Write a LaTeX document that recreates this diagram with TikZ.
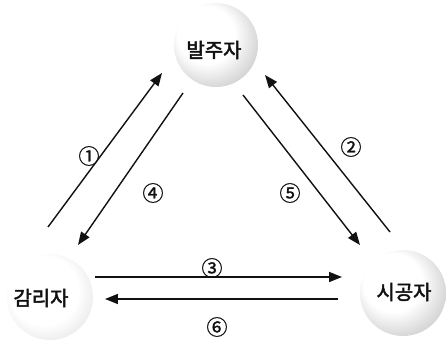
\documentclass[tikz,border=0pt]{standalone}
\usepackage{fontspec}
\usepackage{xcolor}
\usepackage{tikz}
\usetikzlibrary{arrows.meta}
\newfontfamily\krfont[FakeBold=1]{Noto Sans CJK KR}
\newfontfamily\krheavy[FakeBold=2.5]{Noto Sans CJK KR}
\definecolor{InkBlk}  {HTML}{111111}
\definecolor{SpeckGry}{HTML}{8a8a8a}

% stippled spheres behind the three parties
\pgfdeclareradialshading{speckball}{\pgfqpoint{-9bp}{9bp}}{%
  color(0bp)=(white); color(17bp)=(white); color(31bp)=(SpeckGry!40);
  color(38bp)=(SpeckGry!70); color(50bp)=(SpeckGry!70)}
\pgfdeclareradialshading{faintball}{\pgfqpoint{-6bp}{6bp}}{%
  color(0bp)=(white); color(20bp)=(white); color(32bp)=(SpeckGry!22);
  color(50bp)=(SpeckGry!22)}

\tikzset{
  party/.style={font=\krheavy\fontsize{17}{20}\selectfont, text=InkBlk, inner sep=1pt},
  stepno/.style={font=\krfont\fontsize{18}{20}\selectfont, text=InkBlk, inner sep=0pt},
  flow/.style={-{Triangle[length=11pt,width=8.5pt]}, line width=1.2pt, draw=InkBlk},
}

\begin{document}
\begin{tikzpicture}[x=0.03cm, y=-0.03cm]
      \useasboundingbox (0,0) rectangle (446,343);
      % ── spheres ───────────────────────────────────────────────────────────────
      \shade[shading=speckball] (216,45)  circle (1.26cm);
      \shade[shading=faintball] (50,297)  circle (1.29cm);
      \shade[shading=speckball] (403,293) circle (1.29cm);

      % ── parties ───────────────────────────────────────────────────────────────
      \node[party] (owner) at (214,50)  {발주자};
      \node[party] (super) at (41,298)  {감리자};
      \node[party] (contr) at (404,292) {시공자};

      % ── arrow ends ────────────────────────────────────────────────────────────
      \coordinate (a1) at (48,227);   \coordinate (b1) at (162,73);
      \coordinate (a4) at (183,93);   \coordinate (b4) at (78,245);
      \coordinate (a2) at (390,232);  \coordinate (b2) at (265,75);
      \coordinate (a5) at (243,95);   \coordinate (b5) at (360,245);
      \coordinate (a3) at (95,277);   \coordinate (b3) at (342,277);
      \coordinate (a6) at (338,299);  \coordinate (b6) at (105,299);

      \foreach \k in {1,...,6} {
        \draw[flow] (a\k) -- (b\k);
      }

      % ── step numbers ──────────────────────────────────────────────────────────
      \foreach \k/\x/\y/\lab in {1/89/156/①, 2/351/147/②, 3/212/268/③,
                                  4/153/193/④, 5/290/193/⑤, 6/217/327/⑥} {
        \node[stepno] (n\k) at (\x,\y) {\lab};
      }
\end{tikzpicture}
\end{document}
